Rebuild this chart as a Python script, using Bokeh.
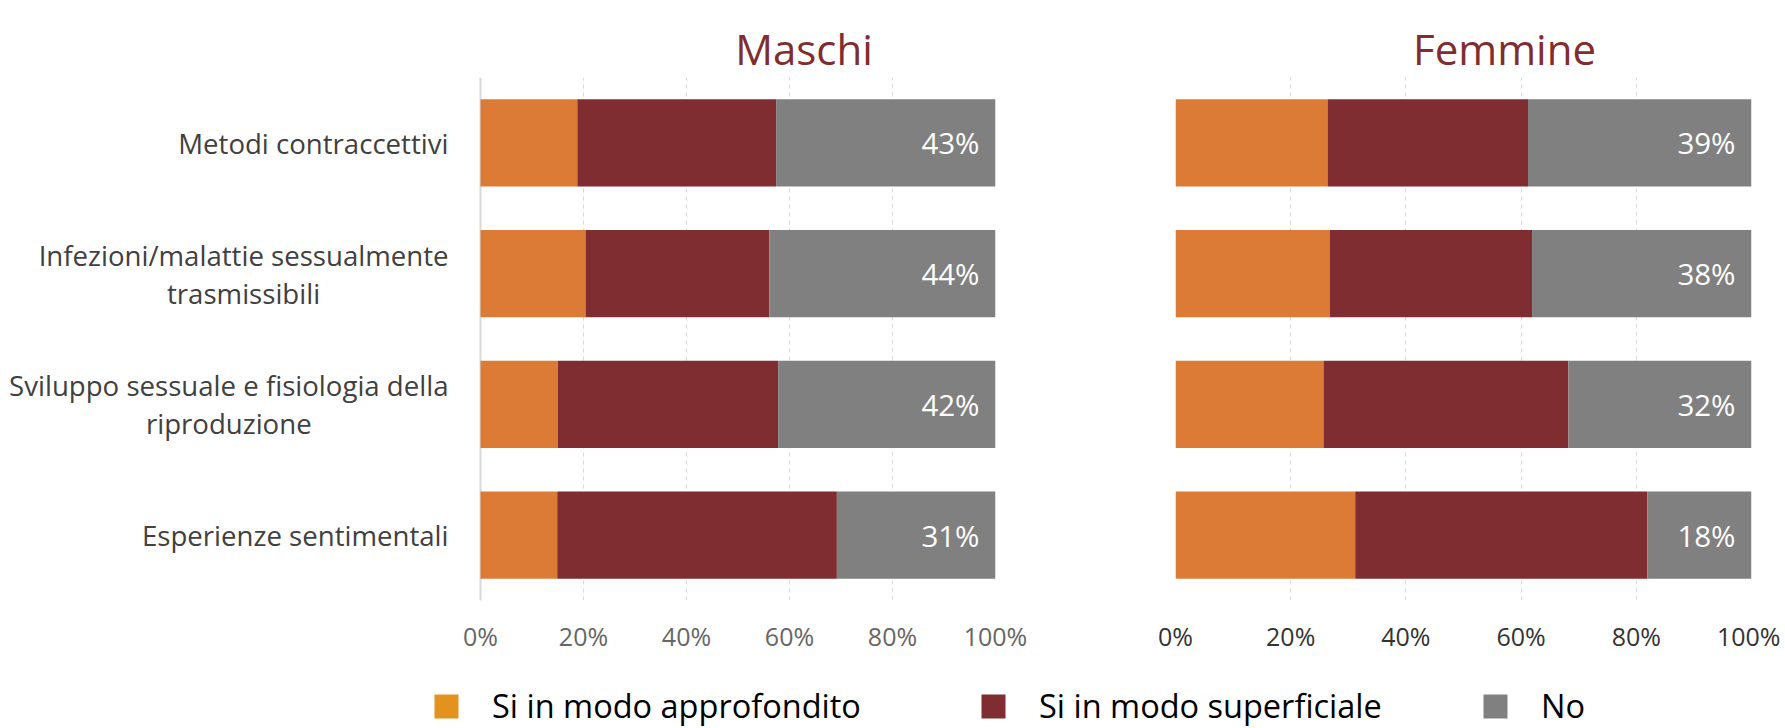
import math
from bokeh.plotting import figure
from bokeh.layouts import column, row
from bokeh.models import (ColumnDataSource, FactorRange, Range1d, FixedTicker,
                          PrintfTickFormatter, Legend, LegendItem, Label, Span)
from bokeh.embed import file_html
from bokeh.resources import INLINE
from bokeh.core.properties import value

# ---------------- data ----------------
categories = [
    "Metodi contraccettivi",
    "Infezioni/malattie sessualmente\ntrasmissibili",
    "Sviluppo sessuale e fisiologia della\nriproduzione",
    "Esperienze sentimentali",
]
series_names = ["Si in modo approfondito", "Si in modo superficiale", "No"]

maschi_approfondito = [18.8, 20.4, 15.0, 14.9]
maschi_superficiale = [38.6, 35.7, 42.8, 54.3]
maschi_no = [42.6, 43.9, 42.2, 30.8]

femmine_approfondito = [26.4, 26.8, 25.7, 31.2]
femmine_superficiale = [34.8, 35.1, 42.5, 50.7]
femmine_no = [38.8, 38.1, 31.8, 18.1]

tick_values = [0, 20, 40, 60, 80, 100]
panel_titles = ["Maschi", "Femmine"]

# ---------------- style / layout ----------------
FONT = "Open Sans"
bar_colors = ["#DB7B36", "#7F2D30", "#808080"]
legend_colors = ["#E3921E", "#7F2D30", "#808080"]
TITLE_COLOR = "#7F2D2F"
GRID_COLOR = "#D9D9D9"

LAB_W = 480          # room for the category labels
FRAME_W1 = 515       # Maschi plotting width
GAP1 = 90            # right border of Maschi
P2_LEFT, FRAME_W2, P2_RIGHT = 90, 576, 29
HEADER_H = 77
FRAME_H = 524
BORDER_BOTTOM = 54
MAIN_H = FRAME_H + BORDER_BOTTOM
LEG_H = 73
TOTAL_W = LAB_W + FRAME_W1 + GAP1 + P2_LEFT + FRAME_W2 + P2_RIGHT


def make_panel(appro, superf, no, width, x_start, border_left, border_right,
               show_cats, tick_color):
    src = ColumnDataSource(dict(
        cat=categories, a=appro, s=superf, n=no,
        total=[x + y + z for x, y, z in zip(appro, superf, no)],
        lbl=[f"{round(v)}%" for v in no],
    ))
    p = figure(width=width, height=MAIN_H,
               y_range=FactorRange(factors=categories[::-1]),
               x_range=Range1d(x_start, 100), y_axis_location=None,
               toolbar_location=None, output_backend="svg",
               min_border_left=border_left, min_border_right=border_right,
               min_border_top=0, min_border_bottom=BORDER_BOTTOM)
    p.outline_line_color = None
    p.background_fill_color = "white"
    p.border_fill_color = "white"

    p.hbar_stack(["a", "s", "n"], y="cat", height=0.667, fill_color=bar_colors,
                 line_color=None, source=src)
    p.text(x="total", y="cat", text="lbl", source=src, x_offset=-16,
           text_align="right", text_baseline="middle", text_color="white",
           text_font=value(FONT), text_font_size="29.5px")

    if show_cats:
        p.add_layout(Span(location=0, dimension="height", line_color=GRID_COLOR,
                          line_width=2, level="underlay"))
        p.text(x=0, y="cat", text="cat", source=src, x_offset=-32,
               anchor=value("center_right"), text_align="center",
               text_baseline="middle", text_font=value(FONT),
               text_font_size="27.6px", text_color="#404040",
               text_line_height=1.0)

    xa = p.xaxis[0]
    xa.ticker = FixedTicker(ticks=tick_values)
    xa.formatter = PrintfTickFormatter(format="%d%%")
    xa.axis_line_color = None
    xa.major_tick_line_color = None
    xa.minor_tick_line_color = None
    xa.major_label_standoff = 12
    xa.major_label_text_font = FONT
    xa.major_label_text_font_size = "25px"
    xa.major_label_text_color = tick_color

    p.xgrid.ticker = FixedTicker(ticks=tick_values)
    p.xgrid.grid_line_color = GRID_COLOR
    p.xgrid.grid_line_dash = "4 4"
    p.ygrid.visible = False
    return p


p1 = make_panel(maschi_approfondito, maschi_superficiale, maschi_no,
                width=LAB_W + FRAME_W1 + GAP1, x_start=-100 * LAB_W / FRAME_W1,
                border_left=0, border_right=GAP1, show_cats=True,
                tick_color="#666666")
p2 = make_panel(femmine_approfondito, femmine_superficiale, femmine_no,
                width=P2_LEFT + FRAME_W2 + P2_RIGHT, x_start=0,
                border_left=P2_LEFT, border_right=P2_RIGHT, show_cats=False,
                tick_color="#333333")


def blank_strip(height):
    f = figure(width=TOTAL_W, height=height, toolbar_location=None, output_backend="svg",
               x_axis_location=None, y_axis_location=None,
               x_range=Range1d(0, 1), y_range=Range1d(0, 1),
               min_border_left=0, min_border_right=0, min_border_top=0, min_border_bottom=0)
    f.outline_line_color = None
    f.grid.visible = False
    return f


# ---------------- panel titles ----------------
header = blank_strip(HEADER_H)
title_centers = [LAB_W + FRAME_W1 / 2 + 66,
                 LAB_W + FRAME_W1 + GAP1 + P2_LEFT + FRAME_W2 / 2 + 41]
for t, cx in zip(panel_titles, title_centers):
    header.add_layout(Label(x=cx, y=HEADER_H - 48, x_units="screen", y_units="screen",
                            text=t, text_align="center", text_baseline="alphabetic",
                            text_font=FONT, text_font_size="42px",
                            text_color=TITLE_COLOR))

# ---------------- legend ----------------
leg = blank_strip(LEG_H)
legend_x = [431, 978, 1480]
for name, col, lx in zip(series_names, legend_colors, legend_x):
    r = leg.quad(left=[math.nan], right=[math.nan], top=[math.nan], bottom=[math.nan],
                 fill_color=col, line_color=None)
    lg = Legend(items=[LegendItem(label=name, renderers=[r])], location=(lx, 0),
                orientation="horizontal", border_line_color=None,
                background_fill_alpha=0, padding=0, margin=0,
                glyph_width=30, glyph_height=30, label_standoff=31,
                label_text_font=FONT, label_text_font_size="32.5px",
                label_text_color="#000000")
    leg.add_layout(lg)

layout = column(header, row(p1, p2), leg)

open("out.html", "w").write(file_html(layout, INLINE))
